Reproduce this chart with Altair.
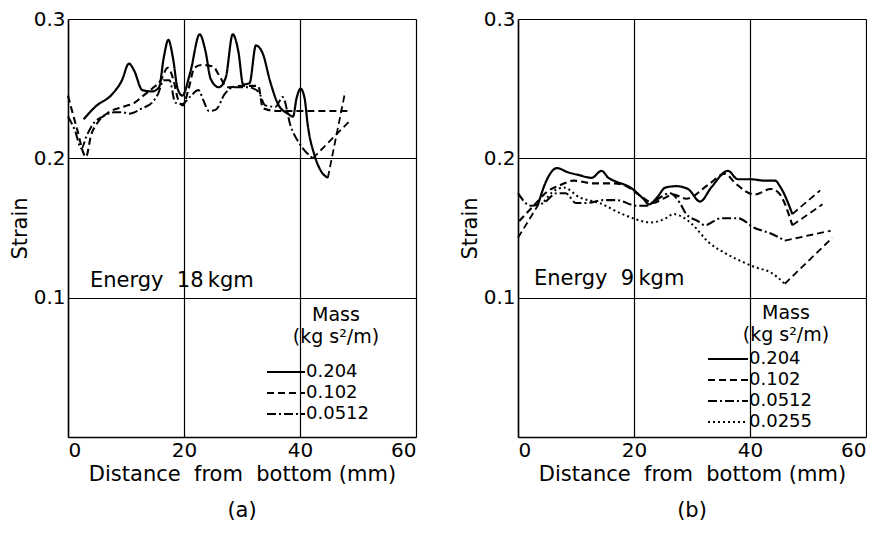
import altair as alt
import pandas as pd

FONT = "DejaVu Sans"
NB = "\u00a0"

# ---------------- Panel (a): Energy 18 kgm ----------------
a_masses = ["0.204", "0.102", "0.0512"]

a_s1_x = [2.7, 4.7, 7.6, 9.3, 10.5, 11.4, 12.8, 14.5, 15.7, 16.5, 17.3, 18.1, 18.9, 19.7, 21.1, 22.7, 23.7, 24.6,
          26.0, 27.2, 28.4, 29.4, 30.2, 31.3, 32.4, 33.6, 34.8, 36.2, 37.9, 38.8, 39.4, 40.1, 40.8, 41.3, 42.6, 43.6, 44.8]
a_s1_y = [0.228, 0.237, 0.246, 0.256, 0.268, 0.263, 0.249, 0.248, 0.251, 0.272, 0.285, 0.272, 0.250, 0.245, 0.262, 0.289, 0.277, 0.257,
          0.251, 0.258, 0.289, 0.276, 0.253, 0.254, 0.281, 0.275, 0.256, 0.239, 0.232, 0.230, 0.243, 0.250, 0.243, 0.225, 0.201, 0.191, 0.186]

a_s2_x = [0, 1.5, 3.1, 4.0, 5.0, 7.0, 9.5, 11.5, 13.0, 14.5, 16.0, 17.2, 18.2, 19.0, 19.8, 20.8, 21.8, 23.0, 25.0, 26.0,
          27.5, 30.0, 32.8, 33.6, 36.0, 40.0, 44.0, 48.3]
a_s2_y = [0.245, 0.222, 0.201, 0.217, 0.225, 0.233, 0.237, 0.240, 0.245, 0.250, 0.256, 0.265, 0.256, 0.242, 0.238, 0.250, 0.265, 0.267, 0.266, 0.260,
          0.251, 0.252, 0.252, 0.236, 0.234, 0.234, 0.234, 0.234]

a_s3_x = [0, 1.2, 2.3, 3.2, 4.2, 6.0, 8.0, 9.5, 10.5, 12.8, 14.5, 15.5, 16.5, 17.5, 18.5, 19.7, 21.0, 22.5, 23.3, 24.3,
          25.5, 27.0, 28.5, 31.0, 32.8, 34.0, 35.8, 37.0, 38.4, 40.0, 42.2]
a_s3_y = [0.230, 0.220, 0.207, 0.216, 0.224, 0.230, 0.233, 0.233, 0.232, 0.236, 0.240, 0.246, 0.256, 0.256, 0.240, 0.239, 0.244, 0.249, 0.242, 0.234,
          0.235, 0.246, 0.251, 0.251, 0.248, 0.238, 0.237, 0.244, 0.223, 0.210, 0.200]

# extrapolated (dashed) ends
a_ext_mass = ["0.204", "0.204", "0.0512", "0.0512"]
a_ext_x = [44.8, 47.8, 42.2, 48.6]
a_ext_y = [0.186, 0.248, 0.200, 0.227]

# ---------------- Panel (b): Energy 9 kgm ----------------
b_masses = ["0.204", "0.102", "0.0512", "0.0255"]

b_s1_x = [3.4, 4.9, 6.7, 8.6, 10.5, 12.7, 14.4, 15.6, 16.5, 19.4, 21.6, 22.6, 24.0, 25.4, 27.3, 29.3, 31.4, 33.3, 36.2,
          37.9, 40.1, 42.5, 44.3, 45.3, 47.3]
b_s1_y = [0.166, 0.184, 0.193, 0.190, 0.188, 0.186, 0.191, 0.186, 0.184, 0.179, 0.171, 0.167, 0.172, 0.179, 0.180, 0.178, 0.169, 0.179, 0.191,
          0.185, 0.185, 0.184, 0.184, 0.179, 0.160]

b_s2_x = [0.2, 2.7, 5.0, 7.4, 9.6, 13.0, 16.5, 18.7, 21.1, 23.3, 25.0, 26.8, 29.0, 32.8, 35.7, 37.5, 40.8, 43.6, 45.0, 47.3]
b_s2_y = [0.155, 0.166, 0.176, 0.181, 0.184, 0.182, 0.182, 0.180, 0.173, 0.168, 0.171, 0.174, 0.171, 0.181, 0.189, 0.182, 0.174, 0.178, 0.175, 0.152]

b_s3_x = [0, 2.2, 4.4, 6.7, 8.2, 10.0, 12.0, 14.7, 17.0, 20.4, 22.1, 23.8, 26.2, 27.9, 29.0, 31.0, 32.2, 35.0, 37.9,
          40.8, 43.6, 46.0]
b_s3_y = [0.175, 0.166, 0.168, 0.175, 0.175, 0.168, 0.168, 0.170, 0.170, 0.166, 0.166, 0.170, 0.175, 0.168, 0.160, 0.155, 0.152, 0.157, 0.157,
          0.150, 0.146, 0.141]

b_s4_x = [4.5, 6.0, 7.9, 10.6, 14.0, 18.0, 23.0, 25.5, 26.8, 28.3, 30.2, 32.8, 35.7, 39.1, 40.8, 43.6, 46.0]
b_s4_y = [0.169, 0.176, 0.179, 0.172, 0.168, 0.160, 0.154, 0.157, 0.160, 0.158, 0.152, 0.140, 0.132, 0.125, 0.122, 0.118, 0.110]

b_ext_mass = ["0.204", "0.204", "0.204L", "0.204L", "0.102", "0.102", "0.0512", "0.0512", "0.0255", "0.0255"]
b_ext_x = [47.3, 52.1, 0.0, 3.4, 47.3, 52.5, 46.0, 53.9, 46.0, 54.2]
b_ext_y = [0.160, 0.177, 0.143, 0.166, 0.152, 0.167, 0.141, 0.148, 0.110, 0.143]

x_ticks = [0, 20, 40, 60]
y_ticks = [0.1, 0.2, 0.3]

x_title = f"Distance{NB} from{NB} bottom (mm)"
y_title = "Strain"
legend_title = ["Mass", "(kg s²/m)"]

DASHES = {"0.204": [1, 0], "0.102": [7, 4], "0.0512": [9, 3, 2, 3], "0.0255": [2, 3]}
WIDTHS = {"0.204": 2.2, "0.102": 2.0, "0.0512": 2.0, "0.0255": 2.6}
LEG_FS = 18


def series_df(masses, xs_list, ys_list):
    rows = []
    for m, xs, ys in zip(masses, xs_list, ys_list):
        for i, (x, y) in enumerate(zip(xs, ys)):
            rows.append({"x": x, "y": y, "Mass": m, "i": i})
    return pd.DataFrame(rows)


def axis(values, title, fmt=None):
    kw = dict(values=values, title=title, grid=True, gridColor="black", gridOpacity=1, gridWidth=1.2,
              ticks=False, domainColor="black", domainWidth=1.5, labelPadding=3,
              labelFontSize=20, titleFontSize=21, titleFontWeight="normal",
              labelFont=FONT, titleFont=FONT, labelColor="black", titleColor="black", titlePadding=3)
    if fmt:
        kw["format"] = fmt
    return alt.Axis(**kw)


def legend_layers(masses, x0, sym_w, title_cx, title_y0, title_dy, row_y0, row_dy):
    layers = []
    for j, t in enumerate(legend_title):
        layers.append(
            alt.Chart(pd.DataFrame({"t": [t]})).mark_text(
                align="center", baseline="middle", fontSize=LEG_FS + 1, font=FONT, color="black"
            ).encode(x=alt.value(title_cx), y=alt.value(title_y0 + j * title_dy), text="t:N")
        )
    for k, m in enumerate(masses):
        yk = row_y0 + k * row_dy
        d = pd.DataFrame({"m": [m]})
        layers.append(
            alt.Chart(d).mark_rule(color="black", strokeWidth=2, strokeDash=DASHES[m]).encode(
                x=alt.value(x0), x2=alt.value(x0 + sym_w), y=alt.value(yk)
            )
        )
        layers.append(
            alt.Chart(d).mark_text(align="left", baseline="middle", fontSize=LEG_FS, font=FONT, color="black").encode(
                x=alt.value(x0 + sym_w + 1), y=alt.value(yk), text="m:N"
            )
        )
    return layers


def panel(masses, xs_list, ys_list, ext_m, ext_x, ext_y, energy, tag, energy_x, energy_y, leg):
    df = series_df(masses, xs_list, ys_list)
    ext = pd.DataFrame({"x": ext_x, "y": ext_y, "Mass": ext_m})

    xenc = alt.X("x:Q", scale=alt.Scale(domain=[0, 60], nice=False), axis=axis(x_ticks, x_title))
    yenc = alt.Y("y:Q", scale=alt.Scale(domain=[0, 0.3], nice=False), axis=axis(y_ticks, y_title, ".1f"))

    lines = alt.Chart(df).mark_line(color="black", interpolate="monotone").encode(
        x=xenc, y=yenc,
        strokeDash=alt.StrokeDash("Mass:N", scale=alt.Scale(domain=masses, range=[DASHES[m] for m in masses]),
                                  legend=None),
        strokeWidth=alt.StrokeWidth("Mass:N", scale=alt.Scale(domain=masses, range=[WIDTHS[m] for m in masses]),
                                    legend=None),
        order="i:Q",
    )
    exts = alt.Chart(ext).mark_line(color="black", strokeWidth=1.8, strokeDash=[7, 4]).encode(
        x="x:Q", y="y:Q", detail="Mass:N"
    )
    label = alt.Chart(pd.DataFrame({"t": [energy]})).mark_text(
        align="left", baseline="alphabetic", fontSize=21, font=FONT, color="black"
    ).encode(x=alt.value(energy_x), y=alt.value(energy_y), text="t:N")

    return alt.layer(lines, exts, label, *legend_layers(masses, *leg)).properties(
        width=348, height=418,
        title=alt.TitleParams(tag, orient="bottom", fontSize=21, font=FONT, fontWeight="normal",
                              anchor="middle", offset=16, color="black"),
    )


left = panel(a_masses, [a_s1_x, a_s2_x, a_s3_x], [a_s1_y, a_s2_y, a_s3_y],
             a_ext_mass, a_ext_x, a_ext_y, f"Energy{NB} 18\u2009kgm", "(a)", 22, 268,
             (199, 38, 268, 296, 22, 353, 21))
right = panel(b_masses, [b_s1_x, b_s2_x, b_s3_x, b_s4_x], [b_s1_y, b_s2_y, b_s3_y, b_s4_y],
              b_ext_mass, b_ext_x, b_ext_y, f"Energy{NB} 9\u2009kgm", "(b)", 16, 266,
              (190, 40, 268, 294, 22, 340, 21))

chart = alt.hconcat(left, right, spacing=41).resolve_scale(
    strokeDash="independent", strokeWidth="independent"
).properties(padding=0).configure_view(stroke="black", strokeWidth=1.5).configure(background="white")

chart.save("out.html", embed_options={"renderer": "svg", "actions": False})
